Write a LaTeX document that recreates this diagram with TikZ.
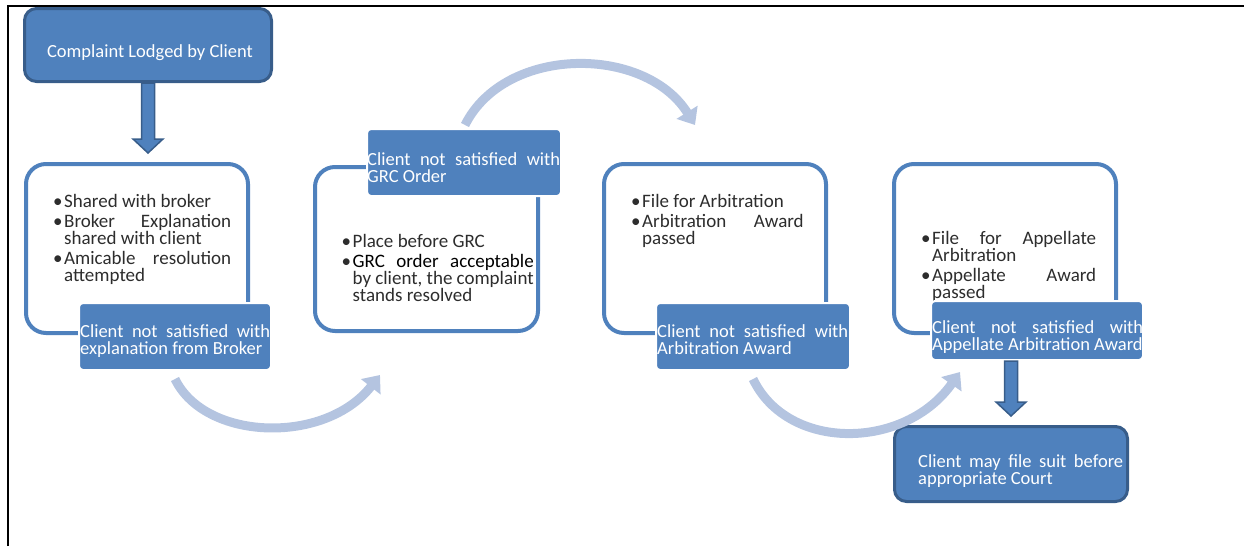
\documentclass[tikz,border=0pt]{standalone}
\usepackage{fontspec}
\setmainfont{Carlito}
\usetikzlibrary{arrows.meta,calc}

\definecolor{boxblue}{RGB}{79,129,189}
\definecolor{boxedge}{RGB}{56,93,138}
\definecolor{arcblue}{RGB}{180,196,224}
\definecolor{listgray}{RGB}{45,45,45}

\newlength{\bltw}
\setlength{\bltw}{11pt}
\newcommand{\firstblt}{\hangindent=\bltw\hangafter=1\noindent\makebox[\bltw][l]{\textbullet}}
\newcommand{\blt}{\par\firstblt}

% block arrow going down from #1 to #2
\newcommand{\flowdown}[2]{%
  \draw[downarrow] let \p1=(#1), \p2=(#2) in
    (\x1-6.5,\y1) -- (\x1+6.5,\y1) -- (\x1+6.5,\y2+23) -- (\x1+15,\y2+23)
    -- (\x1,\y2+9) -- (\x1-15,\y2+23) -- (\x1-6.5,\y2+23) -- cycle;}

\tikzset{
  outlinebox/.style={draw=boxblue, line width=4pt, rounded corners=20pt, fill=white},
  stepblue/.style={draw=white, line width=2pt, fill=boxblue, rounded corners=4pt},
  endbox/.style={draw=boxedge, line width=3pt, fill=boxblue, rounded corners=12pt},
  listtext/.style={anchor=north west, inner sep=0pt, align=justify, text=listgray,
    font=\fontsize{19}{17}\selectfont,
    execute at begin node={\setlength{\parskip}{3pt}\hyphenpenalty=10000}},
  bluetext/.style={anchor=north west, inner sep=0pt, align=justify, text=white,
    font=\fontsize{18.5}{17.5}\selectfont,
    execute at begin node={\hyphenpenalty=10000}},
  downarrow/.style={draw=boxedge, line width=1.5pt, fill=boxblue},
  turnarrow/.style={draw=arcblue, line width=9pt, -{Triangle[length=15pt,width=24pt]}}
}

\begin{document}
\begin{tikzpicture}[x=1pt,y=-1pt]
\useasboundingbox (0,0) rectangle (1244,546);
\draw[line width=2.5pt] (8,546) -- (8,6) -- (1244,6);

% outline boxes
\node[outlinebox, minimum width=222pt, minimum height=169pt] (box1) at (137,248.5) {};
\node[outlinebox, minimum width=223pt, minimum height=164pt] (box2) at (426.5,249) {};
\node[outlinebox, minimum width=222pt, minimum height=169pt] (box3) at (715,248.5) {};
\node[outlinebox, minimum width=222pt, minimum height=169pt] (box4) at (1005,248.5) {};

\node[listtext, text width=178pt] (list1) at (53,194)
  {\firstblt Shared with broker \blt Broker Explanation\linebreak shared with client
   \blt Amicable resolution\linebreak attempted\par};
\node[listtext, text width=192pt] (list2) at (341.5,234)
  {\firstblt Place before GRC \blt {\color{black}GRC order acceptable}\linebreak
   by client, the complaint\linebreak stands resolved\par};
\node[listtext, text width=172.5pt] (list3) at (631,194)
  {\firstblt File for Arbitration \blt Arbitration Award\linebreak passed\par};
\node[listtext, text width=175pt] (list4) at (921,231)
  {\firstblt File for Appellate\linebreak Arbitration \blt Appellate Award\linebreak passed\par};

% blue steps
\node[stepblue, minimum width=192pt, minimum height=67pt] (blue1) at (175,336.5) {};
\node[stepblue, minimum width=194pt, minimum height=67pt] (blue2) at (464,162.5) {};
\node[stepblue, minimum width=194pt, minimum height=67pt] (blue3) at (753,336.5) {};
\node[stepblue, minimum width=212pt, minimum height=59pt] (blue4) at (1037,330.5) {};

\node[bluetext, text width=190pt] (text1) at (80,324)
  {Client not satisfied with\linebreak explanation from Broker};
\node[bluetext, text width=193pt] (text2) at (367,152)
  {Client not satisfied with\linebreak GRC Order};
\node[bluetext, text width=191pt] (text3) at (657,324)
  {Client not satisfied with\linebreak Arbitration Award};
\node[bluetext, text width=211pt] (text4) at (932,320)
  {Client not satisfied with\linebreak Appellate Arbitration Award};

% first and last
\node[endbox, minimum width=247pt, minimum height=73pt] (top) at (148,45) {};
\node[bluetext, anchor=base] (toptext) at (150,57) {Complaint Lodged by Client};
\node[endbox, minimum width=233pt, minimum height=75pt] (bottom) at (1011,464) {};
\node[bluetext, text width=205pt] (bottomtext) at (918,454)
  {Client may file suit before\linebreak appropriate Court};

\flowdown{top.south}{box1.north}
\flowdown{blue4.south -| bottom.north}{bottom.north}

% turning arrows
\coordinate (endA) at (380,375);
\coordinate (endB) at (695,125);
\coordinate (endC) at (960,372);
\draw[turnarrow] ($(blue1.south)+(0,8)$) .. controls +(30,62) and +(-55,70) .. (endA);
\draw[turnarrow] ($(blue2.north)+(1,-3)$) .. controls +(40,-80) and +(-50,-80) .. (endB);
\draw[turnarrow] ($(blue3.south)+(0,8)$) .. controls +(35,73) and +(-55,78) .. (endC);
\end{tikzpicture}
\end{document}
